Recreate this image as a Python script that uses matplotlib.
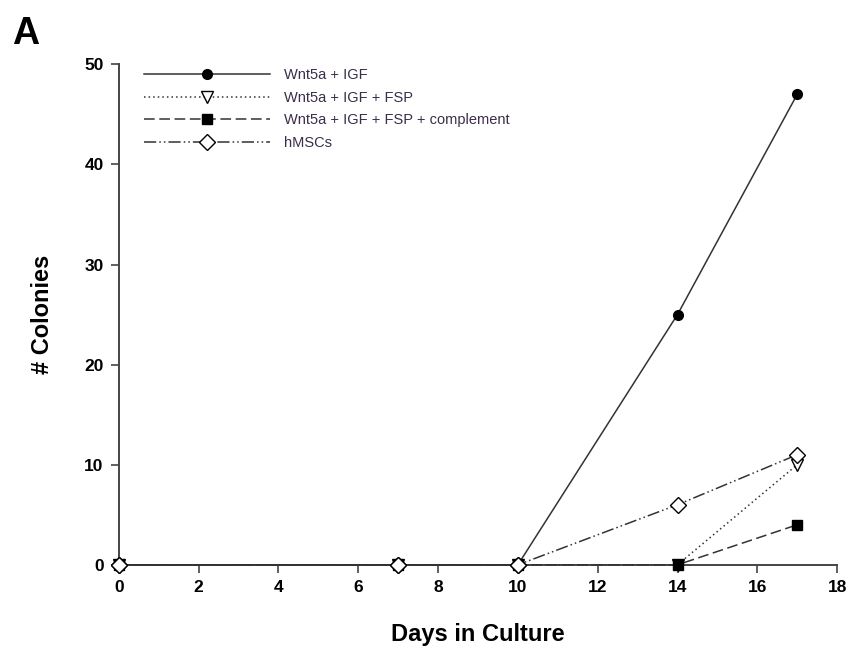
import matplotlib
matplotlib.use("Agg")
import matplotlib.pyplot as plt
from matplotlib.lines import Line2D

plt.rcParams['font.family'] = ['Liberation Sans', 'DejaVu Sans']

days = [0, 7, 10, 14, 17]
wnt_igf = [0, 0, 0, 25, 47]
wnt_igf_fsp = [0, 0, 0, 0, 10]
wnt_igf_fsp_comp = [0, 0, 0, 0, 4]
hmscs = [0, 0, 0, 6, 11]

labels = ["Wnt5a + IGF", "Wnt5a + IGF + FSP",
          "Wnt5a + IGF + FSP + complement", "hMSCs"]
x_ticks = [0, 2, 4, 6, 8, 10, 12, 14, 16, 18]
y_ticks = [0, 10, 20, 30, 40, 50]

fig = plt.figure(figsize=(8.49, 6.70), dpi=100)
ax = fig.add_axes([0.140, 0.157, 0.846, 0.747])

lc = '#333333'
series = [
    (wnt_igf, '-', 'o', 'black', 'black', 7),
    (wnt_igf_fsp, (0, (1, 2)), 'v', 'white', 'black', 8),
    (wnt_igf_fsp_comp, (0, (7, 3)), 's', 'black', 'black', 7),
    (hmscs, (0, (8, 2, 1, 2, 1, 2)), 'D', 'white', 'black', 8),
]

handles = []
for vals, ls, mk, mfc, mec, ms in series:
    ax.plot(days, vals, linestyle=ls, color=lc, linewidth=1.1,
            marker=mk, markerfacecolor=mfc, markeredgecolor=mec,
            markersize=ms, markeredgewidth=1.0, clip_on=False, zorder=3)

# hMSC diamonds sit on top at the shared zero points
ax.plot(days[:3], hmscs[:3], linestyle='none', marker='D',
        markerfacecolor='white', markeredgecolor='black', markersize=8,
        clip_on=False, zorder=4)

for vals, ls, mk, mfc, mec, ms in series:
    handles.append(Line2D([0], [0], linestyle=ls, color=lc, linewidth=1.1,
                          marker=mk, markerfacecolor=mfc,
                          markeredgecolor=mec, markersize=ms))

leg = ax.legend(handles, labels, loc='upper left',
                bbox_to_anchor=(0.017, 1.019), frameon=False,
                handlelength=8.6, handletextpad=1.0, labelspacing=0.6,
                prop={'size': 10.5})
for t in leg.get_texts():
    t.set_color('#3a2e4a')

ax.set_xlim(0, 18)
ax.set_ylim(0, 50)
ax.set_xticks(x_ticks)
ax.set_yticks(y_ticks)
ax.spines['top'].set_visible(False)
ax.spines['right'].set_visible(False)
for s in ('left', 'bottom'):
    ax.spines[s].set_color('#444444')
    ax.spines[s].set_linewidth(1.4)
ax.tick_params(direction='out', length=6, width=1.2, color='#444444',
               labelsize=12.5, pad=5)
for lab in ax.get_xticklabels() + ax.get_yticklabels():
    lab.set_fontweight('bold')

ax.set_xlabel('Days in Culture', fontsize=17, fontweight='bold', labelpad=20)
ax.set_ylabel('# Colonies', fontsize=17, fontweight='bold', labelpad=22)

fig.text(0.014, 0.935, 'A', fontsize=27, fontweight='bold')

fig.savefig('out.png', dpi=100)
